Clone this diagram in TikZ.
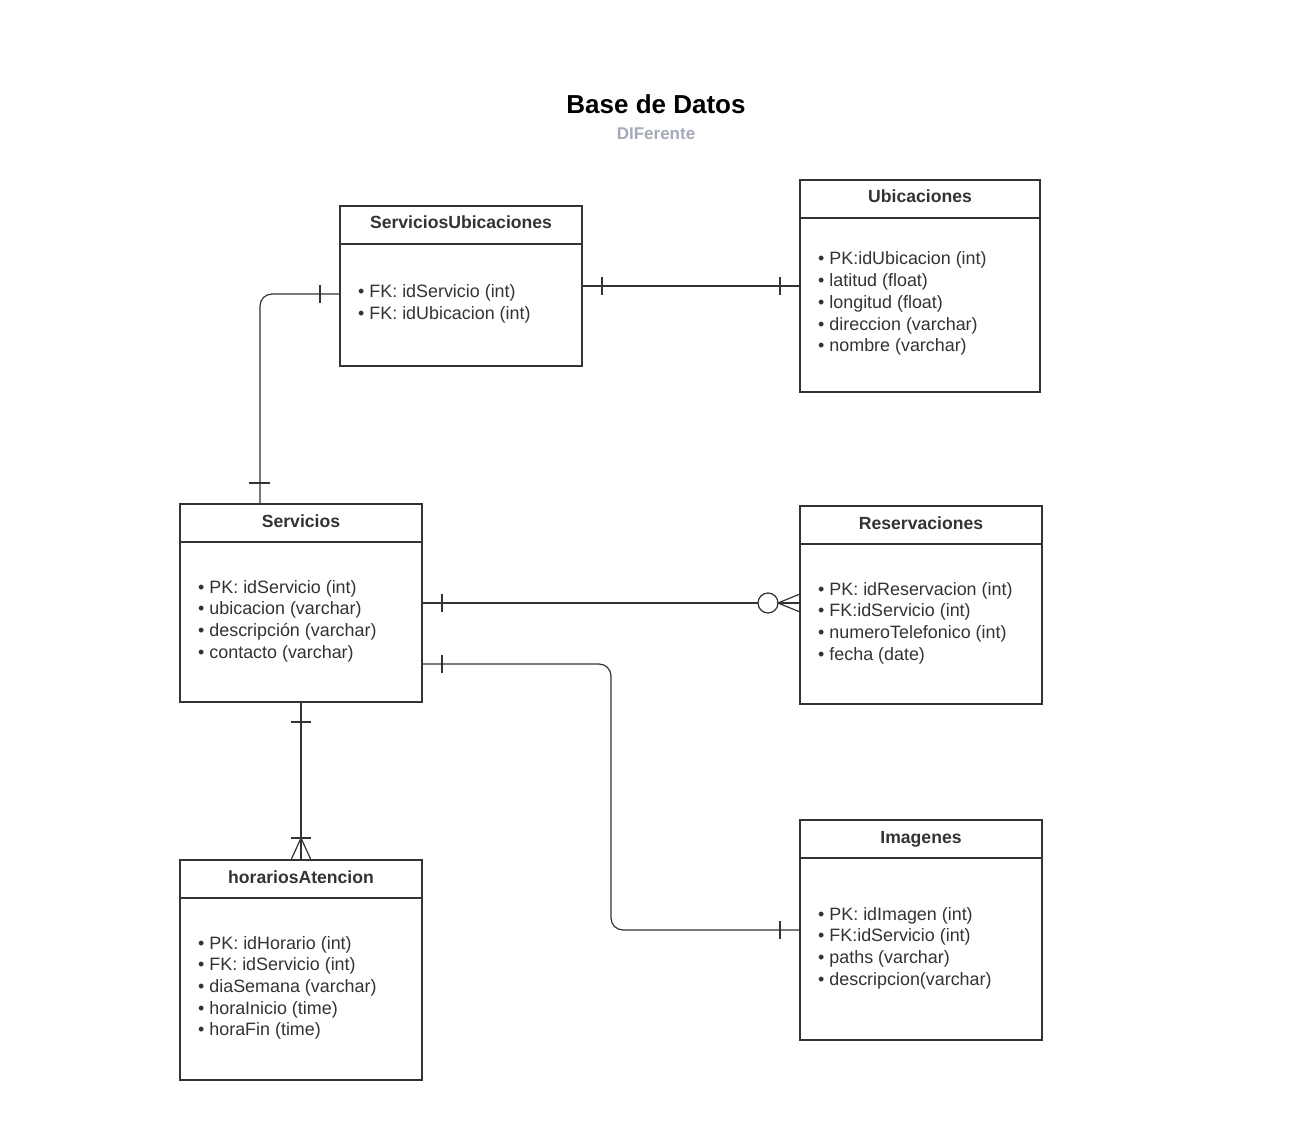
\documentclass[tikz,border=0pt]{standalone}
\usepackage{fontspec}
\setmainfont{Liberation Sans}
\usetikzlibrary{calc}
\definecolor{ink}{HTML}{333333}
\definecolor{subgray}{HTML}{A3AAB8}
\tikzset{
  entbox/.style={draw=ink, line width=2pt, rectangle, inner sep=0pt, outer sep=0pt},
  hdrline/.style={draw=ink, line width=2pt},
  enttitle/.style={font=\bfseries\fontsize{17.6}{21}\selectfont, text=ink, inner sep=0pt, anchor=base},
  attr/.style={font=\fontsize{17.9}{21.7}\selectfont, text=ink, inner sep=0pt, anchor=base west},
  conn/.style={draw=ink, line width=1.2pt},
}
\newcommand\erbox[8]{% name, x, y, w, h, title, first baseline offset, list
  \node[entbox, minimum width=#4pt, minimum height=#5pt, anchor=north west] (#1) at (#2,#3) {};
  \draw[hdrline] ($(#1.north west)+(0,38)$) -- ($(#1.north east)+(0,38)$);
  \node[enttitle] (#1-title) at ($(#1.north)+(0,23)$) {#6};
  \foreach \t [count=\i] in {#8} {
    \node[attr] (#1-a\i) at ($(#1.north west)+(18,#7+21.7*\i-21.7)$) {\textbullet\ \t};
  }
}
\begin{document}
\begin{tikzpicture}[x=1pt,y=-1pt]
\fill[white] (0,0) rectangle (1306,1131);
\useasboundingbox (0,0) rectangle (1306,1131);

\node[font=\bfseries\fontsize{26}{30}\selectfont, text=black] (title) at (656,104) {Base de Datos};
\node[font=\bfseries\fontsize{17}{20}\selectfont, text=subgray] (subtitle) at (656,134) {DIFerente};

\erbox{su}{340}{206}{242}{160}{ServiciosUbicaciones}{92}{FK: idServicio (int), FK: idUbicacion (int)}
\erbox{ubic}{800}{180}{240}{212}{Ubicaciones}{85}{PK:idUbicacion (int), latitud (float), longitud (float), direccion (varchar), nombre (varchar)}
\erbox{serv}{180}{504}{242}{198}{Servicios}{89}{PK: idServicio (int), ubicacion (varchar), descripción (varchar), contacto (varchar)}
\erbox{res}{800}{506}{242}{198}{Reservaciones}{89}{PK: idReservacion (int), FK:idServicio (int), numeroTelefonico (int), fecha (date)}
\erbox{hor}{180}{860}{242}{220}{horariosAtencion}{89}{PK: idHorario (int), FK: idServicio (int), diaSemana (varchar), horaInicio (time), horaFin (time)}
\erbox{imag}{800}{820}{242}{220}{Imagenes}{100}{PK: idImagen (int), FK:idServicio (int), paths (varchar), descripcion(varchar)}

% ServiciosUbicaciones -- Servicios
\draw[conn, rounded corners=12pt] ($(su.north west)+(0,88)$) -| ($(serv.north west)+(80,0)$);
\draw[conn] ($(su.north west)+(-20,79)$) -- ++(0,18);
\draw[conn] ($(serv.north west)+(69,-21)$) -- ++(21,0);

% ServiciosUbicaciones -- Ubicaciones
\draw[conn] (su.east) -- (su.east -| ubic.west);
\draw[conn] ($(su.east)+(20,-9)$) -- ++(0,18);
\draw[conn] ($(su.east -| ubic.west)+(-20,-9)$) -- ++(0,18);

% Servicios -- Reservaciones
\coordinate (resend) at (serv.east -| res.west);
\draw[conn] (serv.east) -- ($(resend)+(-42,0)$);
\draw[conn] ($(serv.east)+(20,-9)$) -- ++(0,18);
\draw[conn, fill=white] ($(resend)+(-32,0)$) circle (10pt);
\draw[conn] ($(resend)+(-22,0)$) -- (resend);
\draw[conn] ($(resend)+(0,-9)$) -- ($(resend)+(-22,0)$) -- ($(resend)+(0,9)$);

% Servicios -- Imagenes
\draw[conn, rounded corners=12pt] ($(serv.east)+(0,61)$) -- ($(serv.east)+(189,61)$) |- (imag.west);
\draw[conn] ($(serv.east)+(20,52)$) -- ++(0,18);
\draw[conn] ($(imag.west)+(-20,-9)$) -- ++(0,18);

% Servicios -- horariosAtencion
\draw[conn] (serv.south) -- (hor.north);
\draw[conn] ($(serv.south)+(-10,20)$) -- ++(20,0);
\draw[conn] ($(hor.north)+(-10,-22)$) -- ++(20,0);
\draw[conn] ($(hor.north)+(-10,0)$) -- ($(hor.north)+(0,-22)$) -- ($(hor.north)+(10,0)$);
\end{tikzpicture}
\end{document}
